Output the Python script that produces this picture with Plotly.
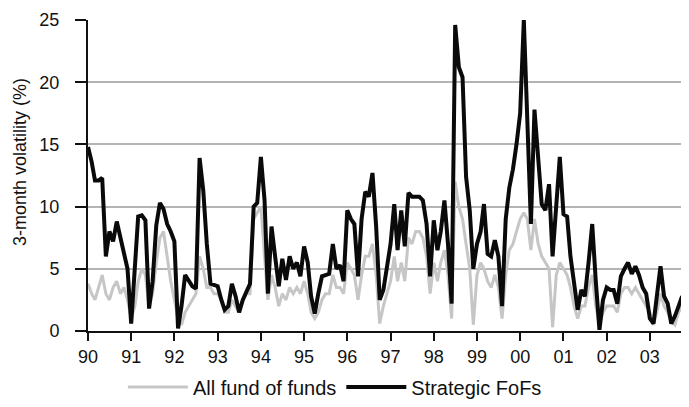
import pandas as pd
import plotly.graph_objects as go

# Monthly observations, Jan 1990 - Oct 2003
months = pd.date_range("1990-01-01", periods=166, freq="MS")

strategic_fofs = [
    14.8, 13.6, 12.1, 12.1, 12.3, 6.0, 8.0, 7.2, 8.8, 7.5, 6.5, 5.0,      # 1990
    0.6, 5.0, 9.2, 9.3, 8.9, 1.8, 4.0, 8.5, 10.3, 9.8, 8.6, 8.0,         # 1991
    7.2, 0.2, 2.0, 4.5, 4.0, 3.6, 3.4, 13.9, 11.3, 7.0, 3.8, 3.7,        # 1992
    3.6, 2.5, 1.7, 2.0, 3.8, 2.8, 1.5, 2.5, 3.2, 3.8, 10.0, 10.3,        # 1993
    14.0, 10.5, 3.0, 8.4, 6.0, 3.6, 5.8, 4.1, 6.0, 5.0, 5.5, 4.4,        # 1994
    6.8, 5.5, 2.8, 1.4, 3.0, 4.4, 4.5, 4.6, 7.0, 5.0, 5.3, 4.0,          # 1995
    9.7, 9.0, 8.6, 4.4, 9.0, 11.2, 10.8, 12.7, 8.4, 2.5, 3.3, 5.0,       # 1996
    7.0, 10.2, 6.5, 9.7, 6.8, 11.1, 10.8, 10.8, 10.8, 10.5, 8.6, 4.4,    # 1997
    8.9, 6.5, 8.0, 10.5, 7.0, 2.2, 24.6, 21.2, 20.4, 12.4, 9.7, 5.0,     # 1998
    7.0, 8.0, 10.2, 6.2, 6.0, 7.3, 6.0, 2.0, 9.0, 11.5, 13.0, 15.0,      # 1999
    17.5, 25.0, 17.8, 8.6, 17.8, 14.0, 10.2, 9.7, 11.8, 6.0, 10.0, 14.0, # 2000
    9.4, 9.2, 6.0, 3.5, 1.7, 3.3, 2.8, 5.5, 8.6, 4.0, 0.1, 2.5,          # 2001
    3.5, 3.3, 3.3, 2.2, 4.4, 5.0, 5.5, 4.6, 5.2, 4.5, 3.5, 3.0,          # 2002
    1.0, 0.6, 2.8, 5.2, 2.8, 2.2, 0.6, 1.2, 2.0, 2.8,                    # 2003
]

all_fund_of_funds = [
    3.8, 3.0, 2.5, 3.5, 4.5, 3.0, 2.5, 3.5, 4.0, 3.0, 3.5, 2.5,          # 1990
    1.0, 2.0, 4.0, 5.0, 4.5, 2.0, 3.0, 5.5, 7.5, 8.0, 6.0, 4.0,          # 1991
    2.5, 1.0, 0.5, 1.5, 2.0, 2.5, 3.0, 6.0, 5.0, 3.5, 3.5, 3.0,          # 1992
    3.0, 2.5, 1.5, 1.5, 2.5, 2.0, 1.5, 2.5, 3.0, 3.0, 9.0, 9.5,          # 1993
    10.0, 6.0, 2.5, 4.5, 3.5, 2.0, 3.0, 2.5, 3.5, 3.0, 3.5, 3.0,         # 1994
    4.0, 3.0, 1.5, 1.0, 1.5, 2.5, 3.0, 3.0, 4.5, 3.5, 3.5, 3.0,          # 1995
    5.5, 5.0, 4.5, 2.5, 4.5, 6.0, 6.0, 7.0, 4.5, 0.6, 2.0, 3.0,          # 1996
    4.0, 6.0, 4.0, 5.5, 4.0, 7.5, 7.0, 8.0, 8.0, 7.5, 6.0, 3.0,          # 1997
    5.5, 4.0, 5.5, 6.5, 4.5, 1.0, 12.0, 10.0, 9.0, 7.0, 5.0, 0.5,        # 1998
    4.5, 5.5, 5.0, 4.0, 3.5, 4.5, 3.5, 1.0, 4.5, 6.5, 7.0, 8.0,          # 1999
    9.0, 9.5, 9.0, 6.5, 9.0, 7.0, 6.0, 5.5, 5.0, 0.3, 4.5, 5.5,          # 2000
    5.0, 4.5, 3.5, 2.0, 1.0, 2.0, 2.0, 3.5, 4.5, 2.0, 0.5, 1.5,          # 2001
    2.0, 2.0, 2.0, 1.5, 3.0, 3.5, 3.5, 3.0, 3.5, 3.0, 2.5, 2.0,          # 2002
    1.5, 0.5, 1.5, 3.0, 2.0, 1.5, 0.8, 0.5, 1.5, 2.0,                    # 2003
]

year_ticks = pd.date_range("1990-01-01", "2003-01-01", freq="YS")
year_labels = ["90", "91", "92", "93", "94", "95", "96", "97", "98", "99",
               "00", "01", "02", "03"]
y_ticks = [0, 5, 10, 15, 20, 25]
y_title = "3-month volatility (%)"

FONT = "Liberation Sans, Arial, sans-serif"

fig = go.Figure()
fig.add_trace(go.Scatter(
    x=months, y=all_fund_of_funds, mode="lines", name="All fund of funds",
    line=dict(color="#c6c6c6", width=3),
))
fig.add_trace(go.Scatter(
    x=months, y=strategic_fofs, mode="lines", name="Strategic FoFs",
    line=dict(color="#0a0a0a", width=4),
))

# page body adds an 8px margin; figure sized so it fits the 689x407 window
fig.update_layout(
    width=681, height=399,
    margin=dict(l=80, r=4, t=12, b=76, autoexpand=False),
    paper_bgcolor="white", plot_bgcolor="white",
    font=dict(family=FONT, size=18, color="#111111"),
    showlegend=True,
    legend=dict(orientation="h", xref="container", x=0.48, xanchor="center",
                yref="container", y=0.05, yanchor="middle",
                font=dict(size=20), itemwidth=60,
                bgcolor="rgba(0,0,0,0)"),
)
fig.update_xaxes(
    range=["1990-01-01", "2003-10-25"],
    tickvals=year_ticks, ticktext=year_labels,
    showgrid=False, zeroline=False,
    showline=True, linecolor="#111111", linewidth=2,
    ticks="outside", ticklen=8, tickwidth=2, tickcolor="#111111",
    tickfont=dict(size=18), automargin=False,
)
fig.update_yaxes(
    range=[0, 25], tickvals=y_ticks,
    showgrid=True, gridcolor="#b4b4b4", gridwidth=2,
    zeroline=False,
    showline=True, linecolor="#111111", linewidth=2,
    ticks="outside", ticklen=11, tickwidth=2, tickcolor="#111111",
    ticklabelstandoff=12,
    tickfont=dict(size=18), automargin=False,
)
fig.add_annotation(
    text=y_title, textangle=-90, showarrow=False,
    xref="paper", yref="paper", x=-0.133, y=0.542,
    xanchor="left", yanchor="middle", font=dict(size=18),
)
fig.add_shape(type="line", xref="paper", yref="paper",
              x0=-0.014, x1=0, y0=0, y1=0,
              line=dict(color="#111111", width=2))

fig.write_html("out.html")
